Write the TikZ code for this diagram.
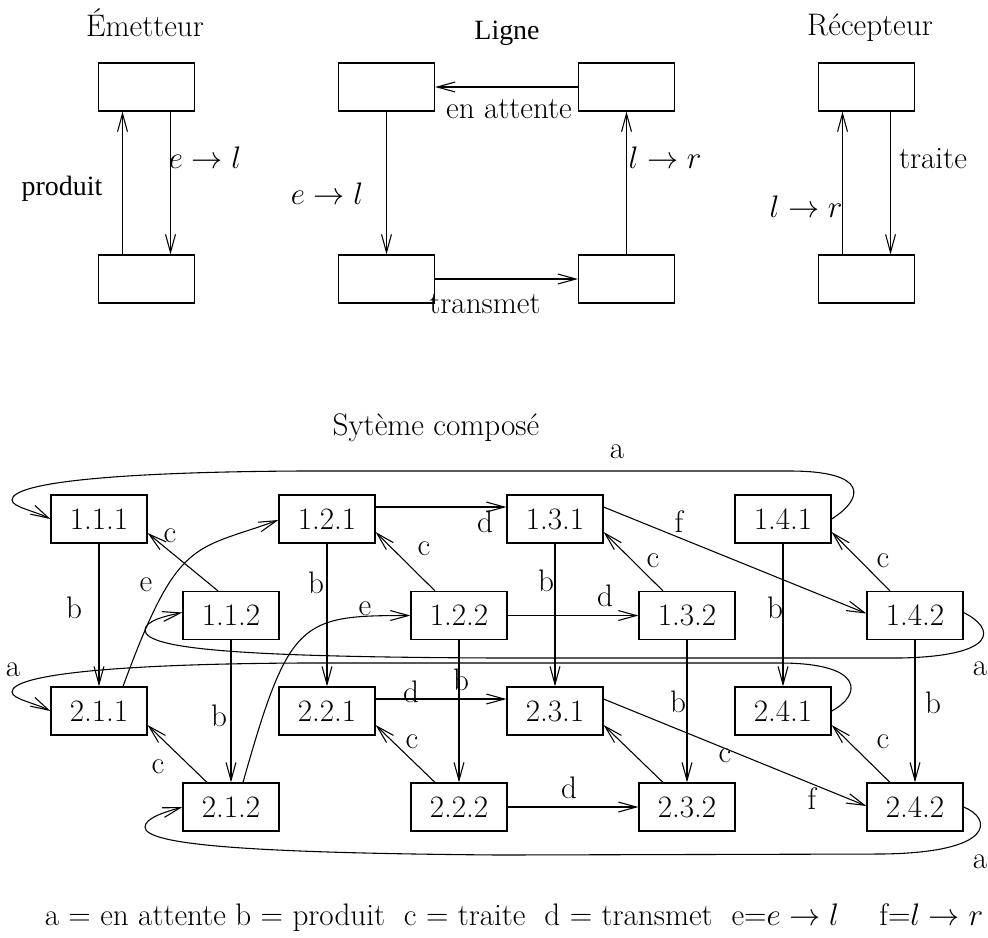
\documentclass[tikz,border=0pt]{standalone}
\usepackage{fontspec}
\usepackage{graphicx}
\newfontfamily\schfont{Liberation Serif}
\usetikzlibrary{arrows.meta,calc}
\begin{document}
\begin{tikzpicture}[x=0.555pt,y=-0.555pt,
  every node/.style={font=\LARGE},
  box/.style={draw,line width=0.65pt,minimum width=53.28pt,minimum height=26.64pt,inner sep=0pt},
  lbl/.style={inner sep=0pt},
  conn/.style={line width=0.6pt,-{Straight Barb[length=10pt,width=5.5pt]}},
  ]
\useasboundingbox (0,0) rectangle (988,937);
% ---------- top: Emetteur ----------
\node[lbl,anchor=base] (tEm) at (145,36.5) {Émetteur};
\node[box] (em1) at (146.5,87) {};
\node[box] (em2) at (146.5,279) {};
\draw[conn] ($(em2.north)+(-24,0)$) -- ($(em1.south)+(-24,0)$);
\draw[conn] ($(em1.south)+(24,0)$) -- ($(em2.north)+(24,0)$);
\node[lbl,anchor=base] (lProd) at (62,195) {\fontsize{15.5}{17}\schfont produit};
\node[lbl,anchor=base] (lEm) at (205,168) {$e\rightarrow l$};
% ---------- top: Ligne ----------
\node[lbl,anchor=base] (tLi) at (507,39) {\fontsize{15.5}{17}\schfont Ligne};
\node[box] (li1) at (386.5,87) {};
\node[box] (li2) at (626.5,87) {};
\node[box] (li3) at (386.5,279) {};
\node[box] (li4) at (626.5,279) {};
\draw[conn] (li2.west) -- (li1.east);
\draw[conn] (li1.south) -- (li3.north);
\draw[conn] (li3.east) -- (li4.west);
\draw[conn] (li4.north) -- (li2.south);
\node[lbl,anchor=base] (lAtt) at (509,118) {en attente};
\node[lbl,anchor=base] (lEl) at (327,204) {$e\rightarrow l$};
\node[lbl,anchor=base] (lTr) at (485,313) {transmet};
\node[lbl,anchor=base] (lLr) at (665,168) {$l\rightarrow r$};
% ---------- top: Recepteur ----------
\node[lbl,anchor=base] (tRe) at (870,35) {Récepteur};
\node[box] (re1) at (866.5,87) {};
\node[box] (re2) at (866.5,279) {};
\draw[conn] ($(re2.north)+(-24,0)$) -- ($(re1.south)+(-24,0)$);
\draw[conn] ($(re1.south)+(24,0)$) -- ($(re2.north)+(24,0)$);
\node[lbl,anchor=base] (lTra) at (933,168) {traite};
\node[lbl,anchor=base] (lLr2) at (806,217) {$l\rightarrow r$};
% ---------- bottom: composed system ----------
\node[lbl,anchor=base] (tSys) at (436,435) {Sytème composé};
\node[box] (n111) at (99,519) {1.1.1};
\node[box] (n121) at (327,519) {1.2.1};
\node[box] (n131) at (555,519) {1.3.1};
\node[box] (n141) at (783,519) {1.4.1};
\node[box] (n112) at (231,615.5) {1.1.2};
\node[box] (n122) at (459,615.5) {1.2.2};
\node[box] (n132) at (687,615.5) {1.3.2};
\node[box] (n142) at (915,615.5) {1.4.2};
\node[box] (n211) at (99,711) {2.1.1};
\node[box] (n221) at (327,711) {2.2.1};
\node[box] (n231) at (555,711) {2.3.1};
\node[box] (n241) at (783,711) {2.4.1};
\node[box] (n212) at (231,807) {2.1.2};
\node[box] (n222) at (459,807) {2.2.2};
\node[box] (n232) at (687,807) {2.3.2};
\node[box] (n242) at (915,807) {2.4.2};
% b edges
\draw[conn] (n111.south) -- (n211.north);
\draw[conn] (n112.south) -- (n212.north);
\draw[conn] (n121.south) -- (n221.north);
\draw[conn] (n122.south) -- (n222.north);
\draw[conn] (n131.south) -- (n231.north);
\draw[conn] (n132.south) -- (n232.north);
\draw[conn] (n141.south) -- (n241.north);
\draw[conn] (n142.south) -- (n242.north);
% c edges
\draw[conn] ($(n112.north)+(-13,0)$) -- ($(n111.east)+(0,14)$);
\draw[conn] ($(n122.north)+(-24,0)$) -- ($(n121.east)+(0,13)$);
\draw[conn] ($(n132.north)+(-24,0)$) -- ($(n131.east)+(0,13)$);
\draw[conn] ($(n142.north)+(-25,0)$) -- ($(n141.east)+(0,13)$);
\draw[conn] ($(n212.north)+(-24,0)$) -- ($(n211.east)+(0,14)$);
\draw[conn] ($(n222.north)+(-24,0)$) -- ($(n221.east)+(0,14)$);
\draw[conn] ($(n232.north)+(-24,0)$) -- ($(n231.east)+(0,14)$);
\draw[conn] ($(n242.north)+(-25,0)$) -- ($(n241.east)+(0,14)$);
% d edges
\draw[conn] ($(n121.east)+(0,-12)$) -- ($(n131.west)+(0,-12)$);
\draw[conn] (n122.east) -- (n132.west);
\draw[conn] ($(n221.east)+(0,-12)$) -- ($(n231.west)+(0,-12)$);
\draw[conn] (n222.east) -- (n232.west);
% f edges
\draw[conn] ($(n131.east)+(0,-12)$) -- ($(n142.west)+(0,-2)$);
\draw[conn] ($(n231.east)+(0,-12)$) -- ($(n242.west)+(0,-1)$);
% e edges
\draw[conn] ($(n211.north)+(24,0)$) .. controls +(55,-150) and +(-85,31) .. ($(n121.west)+(0,1)$);
\draw[conn] ($(n212.north)+(12,0)$) .. controls +(46,-163) and +(-110,0) .. (n122.west);
% a loops
\draw[conn] (n141.east) .. controls (865,498) and (868,471) .. (790,471) -- (300,471)
  .. controls (120,472) and (12,482) .. (12,500) .. controls (12,507) and (35,511) .. (n111.west);
\draw[conn] ($(n142.east)+(0,-3)$) .. controls (995,628) and (1000,656) .. (900,658) -- (500,658)
  .. controls (250,657) and (145,650) .. (145,630) .. controls (145,621) and (165,616) .. ($(n112.west)+(0,-3)$);
\draw[conn] (n241.east) .. controls (862,695) and (865,663) .. (780,663) -- (300,663)
  .. controls (120,664) and (12,674) .. (12,692) .. controls (12,699) and (35,703) .. (n211.west);
\draw[conn] (n242.east) .. controls (992,818) and (997,853) .. (880,854) -- (500,855)
  .. controls (250,853) and (145,845) .. (145,827) .. controls (145,818) and (165,812) .. (n212.west);
% labels
\node[lbl] (b1) at (74,608) {b};
\node[lbl] (b2) at (219,716) {b};
\node[lbl] (b3) at (316,583) {b};
\node[lbl] (b4) at (461,680) {b};
\node[lbl] (b5) at (546,581) {b};
\node[lbl] (b6) at (678,702) {b};
\node[lbl] (b7) at (775,608) {b};
\node[lbl] (b8) at (933,703) {b};
\node[lbl] (c1) at (170,536) {c};
\node[lbl] (c2) at (424,549) {c};
\node[lbl] (c3) at (653,561) {c};
\node[lbl] (c4) at (883,561) {c};
\node[lbl] (c5) at (158,767) {c};
\node[lbl] (c6) at (412,742) {c};
\node[lbl] (c7) at (725,756) {c};
\node[lbl] (c8) at (883,742) {c};
\node[lbl] (d1) at (485,522) {d};
\node[lbl] (d2) at (605,596) {d};
\node[lbl] (d3) at (411,692) {d};
\node[lbl] (d4) at (569,788) {d};
\node[lbl] (e1) at (146,585) {e};
\node[lbl] (e2) at (365,609) {e};
\node[lbl] (f1) at (679,522) {f};
\node[lbl] (f2) at (812,799) {f};
\node[lbl] (a1) at (617,452) {a};
\node[lbl] (a2) at (13,670) {a};
\node[lbl] (a3) at (980,669) {a};
\node[lbl] (a4) at (980,862) {a};
% legend
\node[lbl,anchor=base] (leg) at (514,925) {a = en attente b = produit\ \ c = traite\ \ d = transmet\ \ e=$e\rightarrow l$\quad\ f=$l\rightarrow r$};
\end{tikzpicture}
\end{document}
